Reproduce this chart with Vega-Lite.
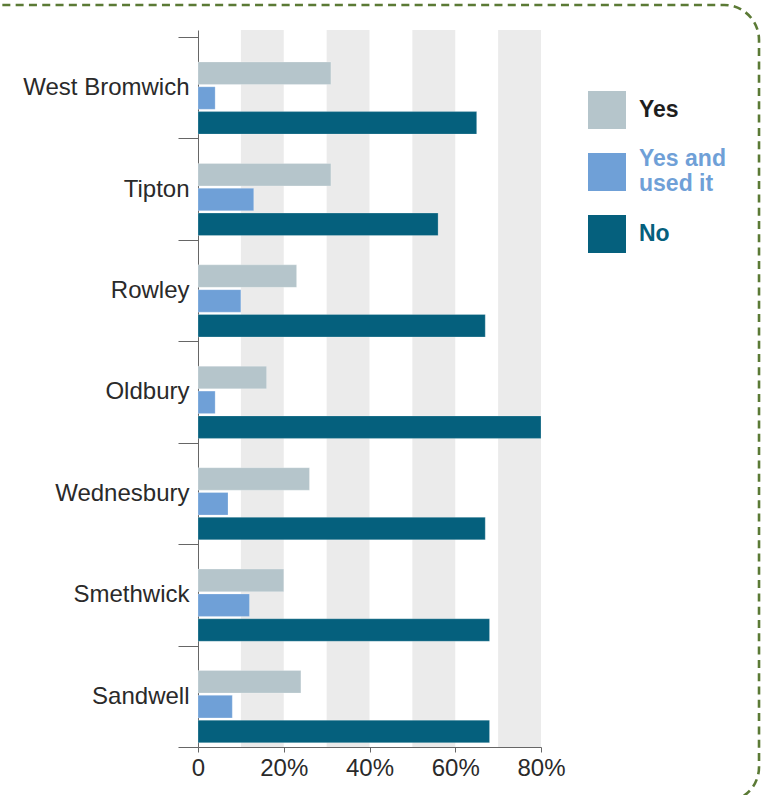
{
  "$schema": "https://vega.github.io/schema/vega-lite/v6.json",
  "width": 343,
  "height": 717,
  "autosize": {"type": "none"},
  "padding": {"left": 198, "top": 30, "right": 223, "bottom": 48},
  "background": "white",
  "config": {
    "view": {"stroke": null},
    "font": "Liberation Sans"
  },
  "datasets": {
    "bars": [
      {"area": "West Bromwich", "response": "Yes", "pct": 31},
      {"area": "West Bromwich", "response": "Yes and used it", "pct": 4},
      {"area": "West Bromwich", "response": "No", "pct": 65},
      {"area": "Tipton", "response": "Yes", "pct": 31},
      {"area": "Tipton", "response": "Yes and used it", "pct": 13},
      {"area": "Tipton", "response": "No", "pct": 56},
      {"area": "Rowley", "response": "Yes", "pct": 23},
      {"area": "Rowley", "response": "Yes and used it", "pct": 10},
      {"area": "Rowley", "response": "No", "pct": 67},
      {"area": "Oldbury", "response": "Yes", "pct": 16},
      {"area": "Oldbury", "response": "Yes and used it", "pct": 4},
      {"area": "Oldbury", "response": "No", "pct": 80},
      {"area": "Wednesbury", "response": "Yes", "pct": 26},
      {"area": "Wednesbury", "response": "Yes and used it", "pct": 7},
      {"area": "Wednesbury", "response": "No", "pct": 67},
      {"area": "Smethwick", "response": "Yes", "pct": 20},
      {"area": "Smethwick", "response": "Yes and used it", "pct": 12},
      {"area": "Smethwick", "response": "No", "pct": 68},
      {"area": "Sandwell", "response": "Yes", "pct": 24},
      {"area": "Sandwell", "response": "Yes and used it", "pct": 8},
      {"area": "Sandwell", "response": "No", "pct": 68}
    ],
    "bands": [
      {"from": 10, "to": 20},
      {"from": 30, "to": 40},
      {"from": 50, "to": 60},
      {"from": 70, "to": 80}
    ]
  },
  "layer": [
    {
      "data": {"values": [{}]},
      "mark": {"type": "rect", "fill": null, "fillOpacity": 0, "stroke": "#5b7a35", "strokeWidth": 2.6, "strokeDash": [8, 5.3], "cornerRadius": 35},
      "encoding": {
        "x": {"datum": -60, "type": "quantitative", "scale": {"domain": [0, 80], "nice": false, "zero": true}},
        "x2": {"datum": 130.85},
        "y": {"datum": 1.0349, "type": "quantitative", "scale": {"domain": [0, 1], "nice": false}, "axis": null},
        "y2": {"datum": -0.0767}
      }
    },
    {
      "data": {"name": "bands"},
      "mark": {"type": "rect", "color": "#ebebeb"},
      "encoding": {
        "x": {"field": "from", "type": "quantitative", "scale": {"domain": [0, 80], "nice": false}},
        "x2": {"field": "to"}
      }
    },
    {
      "data": {"name": "bars"},
      "mark": {"type": "bar", "stroke": "white", "strokeWidth": 0.4, "strokeOpacity": 0.6},
      "encoding": {
        "y": {
          "field": "area", "type": "nominal", "sort": null,
          "scale": {"paddingInner": 0, "paddingOuter": 0.0345, "align": 1},
          "axis": {
            "title": null, "tickBand": "extent", "tickSize": 20, "labelPadding": -11,
            "domainColor": "#666", "tickColor": "#666", "labelColor": "#2a2a2a",
            "labelFontSize": 24, "labelFont": "Liberation Sans", "labelLimit": 300
          }
        },
        "yOffset": {
          "field": "response", "type": "nominal",
          "sort": ["Yes", "Yes and used it", "No"],
          "scale": {"paddingInner": 0.093, "paddingOuter": 0.59, "align": 0.853}
        },
        "x": {
          "field": "pct", "type": "quantitative",
          "scale": {"domain": [0, 80], "nice": false},
          "axis": {
            "title": null, "values": [0, 20, 40, 60, 80], "grid": false,
            "labelExpr": "datum.value == 0 ? '0' : datum.value + '%'",
            "tickSize": 5, "domainColor": "#666", "tickColor": "#666",
            "labelColor": "#2a2a2a", "labelFontSize": 24, "labelFont": "Liberation Sans",
            "labelPadding": 4, "labelFlush": false
          }
        },
        "color": {
          "field": "response", "type": "nominal",
          "scale": {"domain": ["Yes", "Yes and used it", "No"], "range": ["#b5c5cb", "#6fa0d7", "#05607d"]},
          "legend": {
            "title": null, "orient": "none", "legendX": 390, "legendY": 61,
            "symbolType": "square", "symbolSize": 1444, "symbolStrokeWidth": 0, "symbolOpacity": 1,
            "labelOffset": 13, "rowPadding": 19, "padding": 0,
            "labelFontSize": 23, "labelFontWeight": "bold", "labelFont": "Liberation Sans", "labelLimit": 300,
            "labelExpr": "datum.value == 'Yes and used it' ? ['Yes and', 'used it'] : datum.value",
            "labelColor": {"expr": "datum.value == 'Yes' ? '#1e1e1e' : datum.value == 'No' ? '#05607d' : '#6fa0d7'"},
            "labelBaseline": {"expr": "datum.value == 'Yes and used it' ? 'line-bottom' : 'middle'"}
          }
        }
      }
    }
  ],
  "resolve": {"scale": {"y": "independent"}, "axis": {"y": "independent"}}
}
